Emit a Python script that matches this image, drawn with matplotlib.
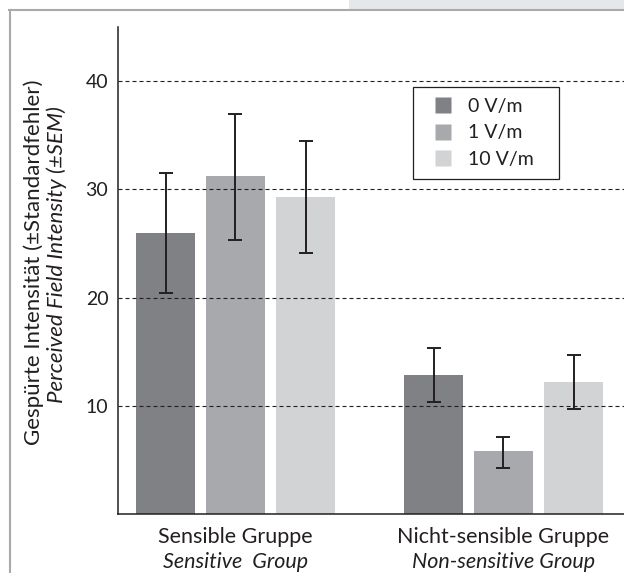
import matplotlib
matplotlib.use("Agg")
import matplotlib.pyplot as plt
from matplotlib.patches import Rectangle
from matplotlib.lines import Line2D
import numpy as np

plt.rcParams['font.family'] = ['Lato', 'DejaVu Sans']

groups_de = ["Sensible Gruppe", "Nicht-sensible Gruppe"]
groups_en = ["Sensitive  Group", "Non-sensitive Group"]
series = ["0 V/m", "1 V/m", "10 V/m"]
means = [[26.0, 12.9], [31.2, 5.8], [29.3, 12.2]]
err_low = [[20.4, 10.4], [25.3, 4.3], [24.1, 9.7]]
err_high = [[31.5, 15.4], [37.0, 7.1], [34.5, 14.7]]
colors = ["#808184", "#a7a9ac", "#d1d3d4"]
yticks = [10, 20, 30, 40]

fig = plt.figure(figsize=(6.24, 5.73), dpi=100)
ax = fig.add_axes([118/624, 1-514.3/573, 1-118/624, (514.3-27)/573])

x = np.arange(len(groups_de))
width = 0.222
offs = [-0.26, 0.0, 0.262]
for i in range(3):
    m = np.array(means[i])
    lo = m - np.array(err_low[i])
    hi = np.array(err_high[i]) - m
    ax.bar(x + offs[i], m, width, color=colors[i], zorder=1, label=series[i])
    ax.errorbar(x + offs[i], m, yerr=[lo, hi], fmt='none', ecolor='#231f20',
                elinewidth=1.4, capsize=4.7, capthick=1.4, zorder=4)

for t in yticks:
    ax.axhline(t, color='#231f20', lw=0.8, linestyle=(0, (3.6, 2.7)), zorder=3)

ax.set_xlim(-0.438, 1.45)
ax.set_ylim(0, 45)
ax.set_yticks(yticks)
ax.set_yticklabels([str(t) for t in yticks], fontsize=14, color='#231f20')
ax.tick_params(axis='y', length=0, pad=7)
ax.set_xticks([])
for s in ['top', 'right']:
    ax.spines[s].set_visible(False)
for s in ['left', 'bottom']:
    ax.spines[s].set_linewidth(1.1)
    ax.spines[s].set_color('#231f20')

for xi, de, en in zip(x, groups_de, groups_en):
    ax.text(xi, -2.1, de, ha='center', va='center', fontsize=15.5, color='#231f20',
            transform=ax.transData, clip_on=False)
    ax.text(xi, -4.4, en, ha='center', va='center', fontsize=15.5, style='italic',
            color='#231f20', transform=ax.transData, clip_on=False)

fig.text(34/624, 1-262/573, "Gespürte Intensität (±Standardfehler)", rotation=90,
         ha='center', va='center', fontsize=16, color='#231f20')
fig.text(57/624, 1-255/573, "Perceived Field Intensity (±SEM)", rotation=90,
         ha='center', va='center', fontsize=16, style='italic', color='#231f20')

handles = [Line2D([], [], linestyle='none', marker='s', markersize=11,
                  markerfacecolor=c, markeredgecolor='none') for c in colors]
leg = fig.legend(handles, series, loc='upper left', mode='expand',
                 bbox_to_anchor=(413/624, 1-180/573, 146/624, 93/573),
                 frameon=True, fancybox=False,
                 fontsize=14, handlelength=2.0, handletextpad=0.3,
                 borderpad=0.55, labelspacing=0.5, borderaxespad=0, framealpha=1)
leg.get_frame().set_edgecolor('#231f20')
leg.get_frame().set_linewidth(0.9)
for t in leg.get_texts():
    t.set_color('#231f20')

# page frame
fig.patches.append(Rectangle((349/624, 1-9.5/573), 1-349/624, 9.5/573,
                             transform=fig.transFigure, facecolor='#e6e7e8',
                             edgecolor='none'))
fig.lines.append(Line2D([10/624, 10/624], [0, 1-10/573], transform=fig.transFigure,
                        color='#a9a9a9', lw=1.5))
fig.lines.append(Line2D([9/624, 1], [1-10/573, 1-10/573], transform=fig.transFigure,
                        color='#a9a9a9', lw=1.5))

fig.savefig("out.png", dpi=100)
